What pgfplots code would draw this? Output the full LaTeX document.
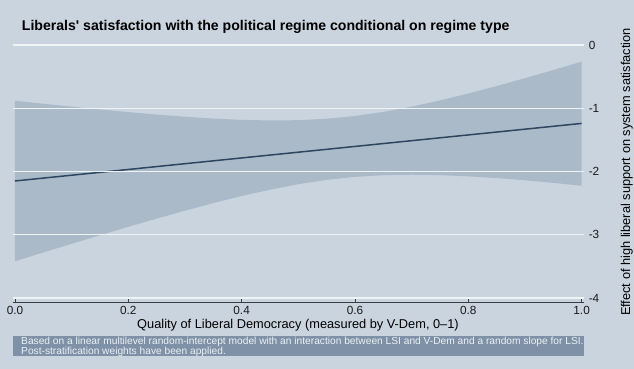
\documentclass[border=0pt]{standalone}
\usepackage{fontspec}
\setmainfont{Liberation Sans}
\usepackage{pgfplots}
\pgfplotsset{compat=1.18}
\usepackage{pgfplotstable}
\definecolor{bg}{RGB}{202,212,222}
\definecolor{band}{RGB}{171,186,200}
\definecolor{fit}{RGB}{44,70,98}
\definecolor{gridc}{RGB}{238,243,246}
\definecolor{notebox}{RGB}{127,145,166}
\definecolor{notetext}{RGB}{236,241,245}

\pgfplotstableread{
x m
0 -2.15
1 -1.24
}\fitline

\pgfplotstableread{
x y
0 -0.882
0.05 -0.929
0.1 -0.975
0.15 -1.020
0.2 -1.061
0.25 -1.100
0.3 -1.134
0.35 -1.163
0.4 -1.184
0.45 -1.193
0.5 -1.189
0.55 -1.166
0.6 -1.123
0.65 -1.058
0.7 -0.975
0.75 -0.877
0.8 -0.768
0.85 -0.649
0.9 -0.525
0.95 -0.396
1 -0.264
1 -2.226
0.95 -2.180
0.9 -2.139
0.85 -2.104
0.8 -2.077
0.75 -2.058
0.7 -2.051
0.65 -2.059
0.6 -2.085
0.55 -2.133
0.5 -2.201
0.45 -2.288
0.4 -2.388
0.35 -2.500
0.3 -2.620
0.25 -2.745
0.2 -2.875
0.15 -3.008
0.1 -3.143
0.05 -3.280
0 -3.419
}\bandtab

\begin{document}
\begin{tikzpicture}[x=1pt,y=1pt]
\fill[bg] (0,0) rectangle (634,369);
\useasboundingbox (0,0) rectangle (634,369);
\begin{axis}[
  at={(13pt,66.6pt)}, anchor=south west,
  scale only axis, width=570.6pt, height=257.4pt,
  xmin=-0.0035, xmax=1.0035, ymin=-4.07, ymax=0,
  axis x line*=bottom, axis y line*=right,
  y axis line style={draw=none},
  x axis line style={draw={rgb,255:red,55;green,62;blue,70}, line width=0.9pt},
  xtick={0,0.2,0.4,0.6,0.8,1},
  xticklabels={0.0,0.2,0.4,0.6,0.8,1.0},
  ytick={0,-1,-2,-3,-4},
  yticklabels={0,-1,-2,-3,-4},
  ymajorgrids,
  major grid style={draw=gridc, line width=1.1pt},
  ytick style={draw=none},
  xtick style={draw={rgb,255:red,55;green,62;blue,70}, line width=0.8pt},
  major tick length=3pt,
  tick align=inside,
  xticklabel style={font=\fontsize{11.8}{13}\selectfont, inner sep=0pt, yshift=-3.4pt, text={rgb,255:red,25;green,25;blue,25}},
  yticklabel style={font=\fontsize{11.8}{13}\selectfont, inner sep=0pt, xshift=5pt, text={rgb,255:red,25;green,25;blue,25}},
  axis on top,
  clip=false,
]
\addplot[fill=band, draw=none] table {\bandtab} -- cycle;
\addplot[fit, line width=1.5pt] table {\fitline};
\end{axis}
\node[anchor=base west, inner sep=0pt, font=\fontsize{14.1}{16}\selectfont\bfseries] at (21.7,338) {Liberals\textquotesingle\ satisfaction with the political regime conditional on regime type};
\node[anchor=base, inner sep=0pt, font=\fontsize{12.8}{14}\selectfont] at (298,40) {Quality of Liberal Democracy (measured by V-Dem, 0--1)};
\node[anchor=base, inner sep=0pt, rotate=90, font=\fontsize{12.8}{14}\selectfont] at (630,197) {Effect of high liberal support on system satisfaction};
\fill[notebox] (13,13) rectangle (584,33);
\node[anchor=base west, inner sep=0pt, text=notetext, font=\fontsize{10.2}{10}\selectfont] at (21,24.3) {Based on a linear multilevel random-intercept model with an interaction between LSI and V-Dem and a random slope for LSI.};
\node[anchor=base west, inner sep=0pt, text=notetext, font=\fontsize{10.2}{10}\selectfont] at (21,14.3) {Post-stratification weights have been applied.};
\end{tikzpicture}
\end{document}
